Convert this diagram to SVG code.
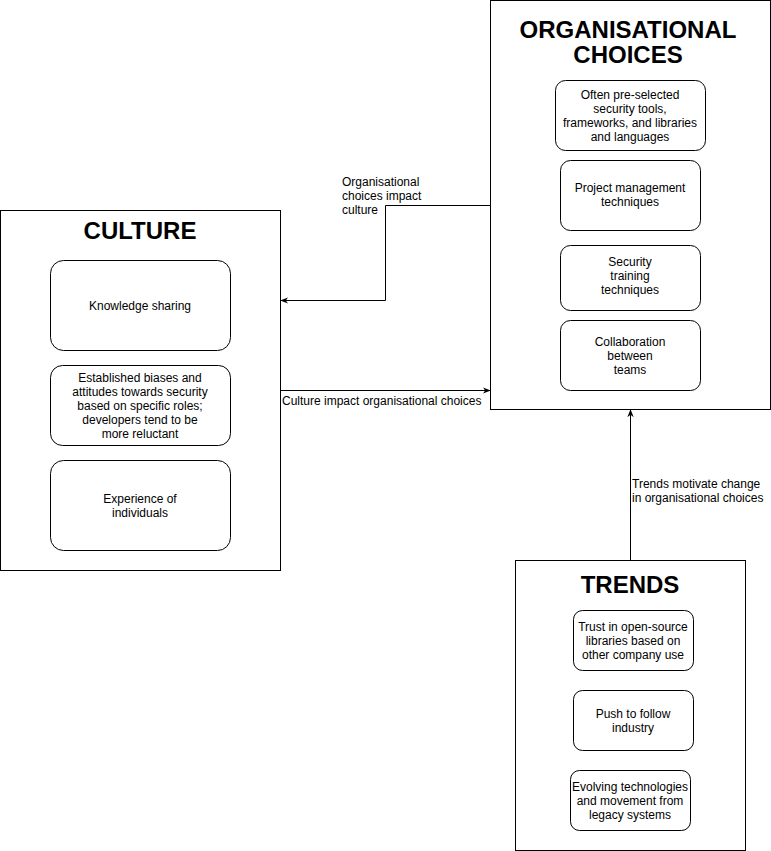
<svg xmlns="http://www.w3.org/2000/svg" width="771" height="851" viewBox="0 0 771 851">
<style>
.frame{fill:#fff;stroke:#000;stroke-width:1}
.item{fill:#fff;stroke:#000;stroke-width:1}
.title{font-family:"Liberation Sans",Arial,sans-serif;font-size:24px;font-weight:bold;text-anchor:middle;fill:#000}
.t{font-family:"Liberation Sans",Arial,sans-serif;font-size:12px;text-anchor:middle;fill:#000}
.lbl{font-family:"Liberation Sans",Arial,sans-serif;font-size:12px;fill:#000}
.edge{fill:none;stroke:#000;stroke-width:1}
</style>
<defs>
<marker id="arr" viewBox="0 0 10 10" refX="9" refY="5" markerWidth="8" markerHeight="8" markerUnits="userSpaceOnUse" orient="auto">
<path d="M0,1 L10,5 L0,9 L3,5 Z" fill="#000"/>
</marker>
</defs>
<rect width="771" height="851" fill="#fff"/>
<g id="culture">
<rect class="frame" x="0.5" y="210.5" width="280" height="360"/>
<text class="title" x="140" y="239">CULTURE</text>
<rect class="item" x="50.5" y="260.5" width="180" height="90" rx="13"/>
<text class="t" x="140" y="310">Knowledge sharing</text>
<rect class="item" x="50.5" y="365.5" width="180" height="80" rx="12"/>
<text class="t" x="140" y="382">Established biases and</text>
<text class="t" x="140" y="396">attitudes towards security</text>
<text class="t" x="140" y="410">based on specific roles;</text>
<text class="t" x="140" y="424">developers tend to be</text>
<text class="t" x="140" y="438">more reluctant</text>
<rect class="item" x="50.5" y="460.5" width="180" height="90" rx="13"/>
<text class="t" x="140" y="503">Experience of</text>
<text class="t" x="140" y="517">individuals</text>
</g>
<g id="org">
<rect class="frame" x="490.5" y="0.5" width="280" height="409"/>
<text class="title" x="628" y="38">ORGANISATIONAL</text>
<text class="title" x="628" y="63">CHOICES</text>
<rect class="item" x="555.5" y="80.5" width="150" height="70" rx="10"/>
<text class="t" x="630" y="99">Often pre-selected</text>
<text class="t" x="630" y="113">security tools,</text>
<text class="t" x="630" y="127">frameworks, and libraries</text>
<text class="t" x="630" y="141">and languages</text>
<rect class="item" x="560.5" y="160.5" width="140" height="70" rx="10"/>
<text class="t" x="630" y="192">Project management</text>
<text class="t" x="630" y="206">techniques</text>
<rect class="item" x="560.5" y="245.5" width="140" height="65" rx="10"/>
<text class="t" x="630" y="266">Security</text>
<text class="t" x="630" y="280">training</text>
<text class="t" x="630" y="294">techniques</text>
<rect class="item" x="560.5" y="320.5" width="140" height="70" rx="10"/>
<text class="t" x="630" y="346">Collaboration</text>
<text class="t" x="630" y="360">between</text>
<text class="t" x="630" y="374">teams</text>
</g>
<g id="trends">
<rect class="frame" x="515.5" y="560.5" width="230" height="290"/>
<text class="title" x="630" y="593">TRENDS</text>
<rect class="item" x="573.5" y="610.5" width="120" height="60" rx="9"/>
<text class="t" x="633" y="631">Trust in open-source</text>
<text class="t" x="633" y="645">libraries based on</text>
<text class="t" x="633" y="659">other company use</text>
<rect class="item" x="573.5" y="690.5" width="120" height="60" rx="9"/>
<text class="t" x="633" y="718">Push to follow</text>
<text class="t" x="633" y="732">industry</text>
<rect class="item" x="570.5" y="770.5" width="120" height="60" rx="9"/>
<text class="t" x="630" y="791">Evolving technologies</text>
<text class="t" x="630" y="805">and movement from</text>
<text class="t" x="630" y="819">legacy systems</text>
</g>
<g id="connectors">
<path class="edge" d="M490,205.5 H385.5 V300.5 H281" marker-end="url(#arr)"/>
<text class="lbl" x="342" y="186">Organisational</text>
<text class="lbl" x="342" y="200">choices impact</text>
<text class="lbl" x="342" y="214">culture</text>
<path class="edge" d="M281,390.5 H490" marker-end="url(#arr)"/>
<text class="lbl" x="282" y="405">Culture impact organisational choices</text>
<path class="edge" d="M630.5,560 V410" marker-end="url(#arr)"/>
<text class="lbl" x="632" y="488">Trends motivate change</text>
<text class="lbl" x="632" y="502">in organisational choices</text>
</g>
</svg>
